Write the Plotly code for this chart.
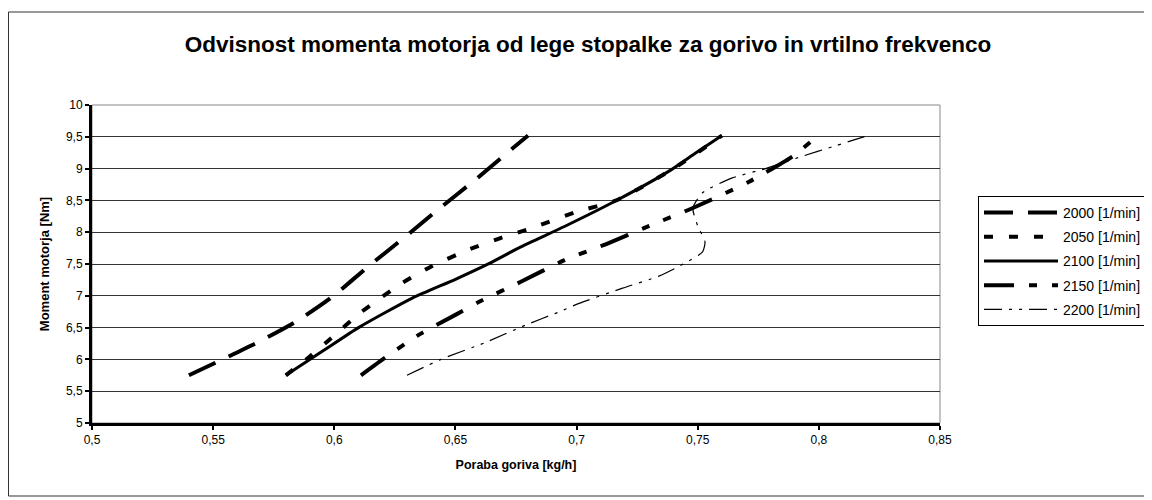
import plotly.graph_objects as go

# ---------------- data ----------------
series_names = ["2000 [1/min]", "2050 [1/min]", "2100 [1/min]", "2150 [1/min]", "2200 [1/min]"]

x_2000 = [0.540, 0.555, 0.568, 0.584, 0.599, 0.614, 0.629, 0.643, 0.659, 0.673, 0.680]
y_2000 = [5.75, 6.02, 6.26, 6.59, 6.98, 7.46, 7.92, 8.36, 8.85, 9.30, 9.52]

x_2050 = [0.580, 0.590, 0.598, 0.611, 0.628, 0.640, 0.655, 0.668, 0.681, 0.700, 0.717, 0.740, 0.760]
y_2050 = [5.75, 6.05, 6.31, 6.74, 7.20, 7.46, 7.72, 7.90, 8.06, 8.32, 8.51, 9.00, 9.52]

x_2100 = [0.580, 0.596, 0.610, 0.632, 0.650, 0.664, 0.677, 0.695, 0.717, 0.739, 0.749, 0.760]
y_2100 = [5.75, 6.15, 6.50, 6.96, 7.26, 7.51, 7.77, 8.09, 8.51, 8.98, 9.24, 9.52]

x_2150 = [0.611, 0.620, 0.635, 0.650, 0.660, 0.677, 0.695, 0.712, 0.730, 0.748, 0.771, 0.789, 0.800]
y_2150 = [5.75, 6.00, 6.39, 6.70, 6.91, 7.22, 7.56, 7.81, 8.10, 8.38, 8.79, 9.19, 9.53]

x_2200 = [0.630, 0.644, 0.662, 0.679, 0.693, 0.701, 0.719, 0.734, 0.745, 0.752, 0.753, 0.750, 0.748, 0.752, 0.764, 0.778, 0.792, 0.807, 0.821]
y_2200 = [5.75, 6.00, 6.26, 6.54, 6.75, 6.88, 7.12, 7.31, 7.52, 7.69, 7.85, 8.10, 8.38, 8.62, 8.85, 9.00, 9.18, 9.36, 9.53]

x_tickvals = [0.5, 0.55, 0.6, 0.65, 0.7, 0.75, 0.8, 0.85]
x_ticktext = ["0,5", "0,55", "0,6", "0,65", "0,7", "0,75", "0,8", "0,85"]
y_tickvals = [5, 5.5, 6, 6.5, 7, 7.5, 8, 8.5, 9, 9.5, 10]
y_ticktext = ["5", "5,5", "6", "6,5", "7", "7,5", "8", "8,5", "9", "9,5", "10"]

title_text = "Odvisnost momenta motorja od lege stopalke za gorivo in vrtilno frekvenco"
x_title = "Poraba goriva [kg/h]"
y_title = "Moment motorja [Nm]"

# ---------------- styles ----------------
xs = [x_2000, x_2050, x_2100, x_2150, x_2200]
ys = [y_2000, y_2050, y_2100, y_2150, y_2200]
dashes = ["29px,15px", "9px,16px", "solid", "30px,15px,8px,15px,8px,15px", "18px,7px,3px,7px,3px,7px"]
widths = [4, 4, 3, 4, 1.2]

FONT = "Liberation Sans, Arial, sans-serif"

fig = go.Figure()
for name, x, y, d, w in zip(series_names, xs, ys, dashes, widths):
    fig.add_trace(go.Scatter(
        x=x, y=y, name=name, mode="lines", legendgroup=name,
        line=dict(color="black", width=w, dash=d, shape="spline", smoothing=0.6),
    ))

# page is offset by the 8px body margin -> work in page coords, convert
OFF = 8
W, H = 1152 - OFF, 500 - OFF
L, R, T, B = 92 - OFF, 940 - OFF, 105 - OFF, 423 - OFF
pw, ph = R - L, B - T

def px(xp):
    return (xp - OFF - L) / pw

def py(yp):
    return (B - (yp - OFF)) / ph

fig.update_layout(
    width=W, height=H,
    margin=dict(l=L, r=W - R, t=T, b=H - B, pad=0, autoexpand=False),
    paper_bgcolor="white", plot_bgcolor="white",
    font=dict(family=FONT, size=12, color="black"),
    title=dict(text="<b>" + title_text + "</b>", x=(588 - OFF) / W, xanchor="center", xref="container",
               y=1 - (44 - OFF) / H, yanchor="middle", yref="container", font=dict(size=22.5, family=FONT)),
    showlegend=True,
    legend=dict(x=px(978), xanchor="left", y=py(196), yanchor="top",
                bordercolor="black", borderwidth=1, bgcolor="white",
                font=dict(size=14, family=FONT), tracegroupgap=3, itemwidth=74),
    xaxis=dict(range=[0.5, 0.85], tickvals=x_tickvals, ticktext=x_ticktext,
               showgrid=False, zeroline=False, showline=True, linecolor="black", linewidth=3,
               ticks="outside", ticklen=4, tickwidth=2, tickcolor="black",
               tickfont=dict(size=12), title=dict(text="<b>" + x_title + "</b>", font=dict(size=12.5), standoff=14)),
    yaxis=dict(range=[5, 10], tickvals=y_tickvals, ticktext=y_ticktext,
               showgrid=True, gridcolor="#333333", gridwidth=1, zeroline=False,
               showline=True, linecolor="black", linewidth=3,
               ticks="outside", ticklen=4, tickwidth=2, tickcolor="black",
               tickfont=dict(size=12), title=dict(text="<b>" + y_title + "</b>", font=dict(size=13), standoff=14)),
    shapes=[
        dict(type="rect", xref="paper", yref="paper", x0=px(OFF + 0.5), x1=px(1148), y0=py(496), y1=py(12),
             line=dict(color="#333333", width=1), fillcolor="rgba(0,0,0,0)", layer="below"),
        dict(type="rect", xref="paper", yref="paper", x0=0, x1=1, y0=0, y1=1,
             line=dict(color="#888888", width=1), fillcolor="rgba(0,0,0,0)", layer="below"),
    ],
)

fig.write_html("out.html")
